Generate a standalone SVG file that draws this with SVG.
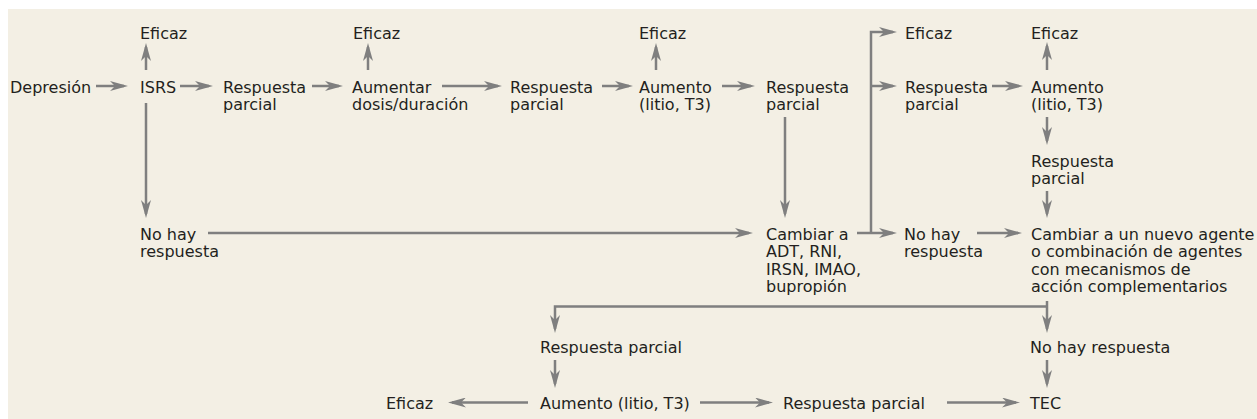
<svg xmlns="http://www.w3.org/2000/svg" width="1257" height="419" viewBox="0 0 1257 419">
<defs>
<style>
text{font-family:"DejaVu Sans","Liberation Sans",sans-serif;font-size:16px;fill:#231f20}
.c path{fill:none;stroke:#7f7f7f;stroke-width:2.5}
.a{marker-end:url(#ah)}
</style>
<marker id="ah" markerUnits="userSpaceOnUse" markerWidth="18" markerHeight="10" refX="14" refY="5" orient="auto" viewBox="0 0 18 10">
<path d="M0,0 L18,5 L0,10 L5,5 z" fill="#7f7f7f"/>
</marker>
</defs>
<rect x="8" y="9" width="1249" height="410" fill="#f3efe4"/>
<g class="c" id="connectors">
<path class="a" d="M96,86 H124"/>
<path class="a" d="M146,70 V47"/>
<path class="a" d="M180,86 H209"/>
<path class="a" d="M312,86 H339"/>
<path class="a" d="M368,70 V47"/>
<path class="a" d="M442,86 H498"/>
<path class="a" d="M602,86 H629"/>
<path class="a" d="M656,70 V47"/>
<path class="a" d="M722,86 H751"/>
<path class="a" d="M785,117 V214"/>
<path class="a" d="M146,103 V214"/>
<path class="a" d="M208,233 H749"/>
<path class="a" d="M857,233 H893"/>
<path class="a" d="M871,233 V32 H893"/>
<path class="a" d="M871,86 H893"/>
<path class="a" d="M977,233 H1018"/>
<path class="a" d="M992,86 H1019"/>
<path class="a" d="M1047,70 V46"/>
<path class="a" d="M1047,117 V141"/>
<path class="a" d="M1047,191 V214"/>
<path class="a" d="M1047,301 V329"/>
<path class="a" d="M1047,306.5 H555 V329"/>
<path class="a" d="M555,360 V384"/>
<path class="a" d="M528,402.5 H452"/>
<path class="a" d="M700,402.5 H769"/>
<path class="a" d="M947,402.5 H1016"/>
<path class="a" d="M1047,360 V384"/>
</g>
<g id="n-depresion"><text x="10" y="92.5">Depresión</text></g>
<g id="n-isrs"><text x="140" y="92.5">ISRS</text></g>
<g id="n-eficaz1"><text x="140" y="38.5">Eficaz</text></g>
<g id="n-resp1"><text x="223" y="92.5">Respuesta</text><text x="223" y="110">parcial</text></g>
<g id="n-eficaz2"><text x="353" y="38.5">Eficaz</text></g>
<g id="n-aumentar"><text x="352" y="92.5">Aumentar</text><text x="352" y="110">dosis/duración</text></g>
<g id="n-resp2"><text x="510" y="92.5">Respuesta</text><text x="510" y="110">parcial</text></g>
<g id="n-eficaz3"><text x="639" y="38.5">Eficaz</text></g>
<g id="n-aumento1"><text x="639" y="92.5">Aumento</text><text x="639" y="110">(litio, T3)</text></g>
<g id="n-resp3"><text x="766" y="92.5">Respuesta</text><text x="766" y="110">parcial</text></g>
<g id="n-eficaz4"><text x="905" y="38.5">Eficaz</text></g>
<g id="n-resp4"><text x="905" y="92.5">Respuesta</text><text x="905" y="110">parcial</text></g>
<g id="n-eficaz5"><text x="1031" y="38.5">Eficaz</text></g>
<g id="n-aumento2"><text x="1031" y="92.5">Aumento</text><text x="1031" y="110">(litio, T3)</text></g>
<g id="n-resp5"><text x="1031" y="166.5">Respuesta</text><text x="1031" y="184">parcial</text></g>
<g id="n-nohay1"><text x="140" y="239.5">No hay</text><text x="140" y="257">respuesta</text></g>
<g id="n-cambiar1"><text x="766" y="239.5">Cambiar a</text><text x="766" y="257">ADT, RNI,</text><text x="766" y="274.5">IRSN, IMAO,</text><text x="766" y="292">bupropión</text></g>
<g id="n-nohay2"><text x="904" y="239.5">No hay</text><text x="904" y="257">respuesta</text></g>
<g id="n-cambiar2"><text x="1031" y="239.5">Cambiar a un nuevo agente</text><text x="1031" y="257">o combinación de agentes</text><text x="1031" y="274.5">con mecanismos de</text><text x="1031" y="292">acción complementarios</text></g>
<g id="n-resp6"><text x="540" y="352.5">Respuesta parcial</text></g>
<g id="n-nohay3"><text x="1030" y="352.5">No hay respuesta</text></g>
<g id="n-eficaz6"><text x="386" y="408.5">Eficaz</text></g>
<g id="n-aumento3"><text x="540" y="408.5">Aumento (litio, T3)</text></g>
<g id="n-resp7"><text x="783" y="408.5">Respuesta parcial</text></g>
<g id="n-tec"><text x="1030" y="408.5">TEC</text></g>
</svg>
